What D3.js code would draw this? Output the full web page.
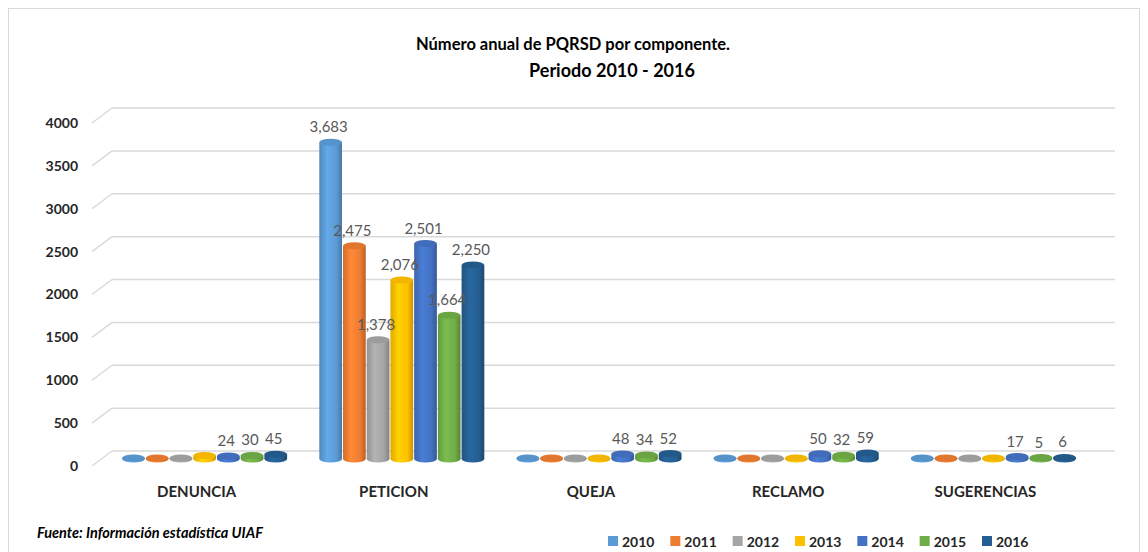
<!DOCTYPE html>
<html>
<head>
<meta charset="utf-8">
<script src="https://cdn.jsdelivr.net/npm/d3@7"></script>
<style>
  body { margin: 0; background: #fff; }
  svg text { font-family: Lato, "Open Sans", sans-serif; }
</style>
</head>
<body>
<svg id="chart" width="1148" height="552"></svg>
<script>
const categories = ["DENUNCIA", "PETICION", "QUEJA", "RECLAMO", "SUGERENCIAS"];
const years = ["2010", "2011", "2012", "2013", "2014", "2015", "2016"];
const colors = ["#5B9BD5", "#ED7D31", "#A5A5A5", "#FFC000", "#4472C4", "#70AD47", "#255E91"];
// values per year, one entry per category
const v2010 = [0, 3683, 0, 0, 0];
const v2011 = [0, 2475, 0, 0, 0];
const v2012 = [0, 1378, 0, 0, 0];
const v2013 = [30, 2076, 0, 0, 0];
const v2014 = [24, 2501, 48, 50, 17];
const v2015 = [30, 1664, 34, 32, 5];
const v2016 = [45, 2250, 52, 59, 6];
// which bars carry a data label
const labelled = [
  [false, true, false, false, false],
  [false, true, false, false, false],
  [false, true, false, false, false],
  [false, true, false, false, false],
  [true, true, true, true, true],
  [true, true, true, true, true],
  [true, true, true, true, true]
];
const yTicks = [0, 500, 1000, 1500, 2000, 2500, 3000, 3500, 4000];

const series = [v2010, v2011, v2012, v2013, v2014, v2015, v2016];
const rows = [];
categories.forEach((c, ci) => {
  years.forEach((y, yi) => {
    rows.push({ cat: c, year: y, yi: yi, value: series[yi][ci], label: labelled[yi][ci] });
  });
});

const svg = d3.select("#chart");

// frame
svg.append("rect").attr("x", 8.5).attr("y", 8.5).attr("width", 1131).attr("height", 560)
  .attr("fill", "none").attr("stroke", "#d9d9d9");

// title
svg.append("text").attr("x", 573).attr("y", 50).attr("text-anchor", "middle")
  .attr("font-size", 16.5).attr("font-weight", "bold").attr("fill", "#000")
  .text("Número anual de PQRSD por componente.");
svg.append("text").attr("x", 612).attr("y", 77).attr("text-anchor", "middle")
  .attr("font-size", 18).attr("font-weight", "bold").attr("fill", "#000")
  .text("Periodo 2010 - 2016");

// scales (back wall, bar mid plane, front labels)
const yBack = d3.scaleLinear().domain([0, 4000]).range([451, 108]);
const yBar = d3.scaleLinear().domain([0, 4000]).range([459, 116]);
const yFront = d3.scaleLinear().domain([0, 4000]).range([466, 123]);

const x0 = d3.scaleBand().domain(categories).range([98, 1084]);
const groupW = 166;
const x1 = d3.scaleBand().domain(years).range([0, groupW]);
const groupOffset = (x0.bandwidth() - groupW) / 2 + 8;

// gridlines with 3D side wall
const grid = svg.append("g");
yTicks.forEach((t) => {
  grid.append("line").attr("x1", 112).attr("x2", 1115)
    .attr("y1", yBack(t)).attr("y2", yBack(t))
    .attr("stroke", "#d9d9d9").attr("stroke-width", 1.5);
  grid.append("line").attr("x1", 92).attr("x2", 112)
    .attr("y1", yFront(t)).attr("y2", yBack(t))
    .attr("stroke", "#d9d9d9").attr("stroke-width", 1.3);
});

// y axis
const yAxis = d3.axisLeft(yFront).tickValues(yTicks).tickSize(0).tickPadding(0).tickFormat(d3.format("d"));
const ya = svg.append("g").attr("transform", "translate(78,0)").call(yAxis);
ya.select(".domain").remove();
ya.selectAll("text").attr("font-size", 14).attr("font-weight", "bold").attr("fill", "#262626")
  .attr("font-family", "Lato, sans-serif");

// category labels
svg.append("g").selectAll("text").data(categories).join("text")
  .attr("x", (d) => x0(d) + x0.bandwidth() / 2)
  .attr("y", 497).attr("text-anchor", "middle")
  .attr("font-size", 15).attr("font-weight", "bold").attr("fill", "#262626")
  .text((d) => d);

// gradients for cylinders
const defs = svg.append("defs");
colors.forEach((c, i) => {
  const g = defs.append("linearGradient").attr("id", "cyl" + i)
    .attr("x1", "0%").attr("x2", "100%").attr("y1", "0%").attr("y2", "0%");
  g.append("stop").attr("offset", "0%").attr("stop-color", d3.color(c).darker(0.35));
  g.append("stop").attr("offset", "35%").attr("stop-color", d3.color(c).brighter(0.25));
  g.append("stop").attr("offset", "75%").attr("stop-color", c);
  g.append("stop").attr("offset", "100%").attr("stop-color", d3.color(c).darker(0.7));
});

const bw = x1.bandwidth();
const ry = 3.5;
const bars = svg.append("g").selectAll("g").data(rows).join("g")
  .attr("transform", (d) => `translate(${x0(d.cat) + groupOffset + x1(d.year)},0)`);

// bottom ellipse
bars.append("ellipse")
  .attr("cx", bw / 2).attr("cy", yBar(0)).attr("rx", bw / 2 - 0.5).attr("ry", ry)
  .attr("fill", (d) => `url(#cyl${d.yi})`);
// body
bars.append("rect")
  .attr("x", 0.5).attr("width", bw - 1)
  .attr("y", (d) => yBar(d.value) - 1)
  .attr("height", (d) => yBar(0) - yBar(d.value) + 1)
  .attr("fill", (d) => `url(#cyl${d.yi})`);
// top ellipse
bars.append("ellipse")
  .attr("cx", bw / 2).attr("cy", (d) => yBar(d.value) - 1).attr("rx", bw / 2 - 0.5).attr("ry", ry)
  .attr("fill", (d) => d3.color(colors[d.yi]).darker(0.15));

// data labels
svg.append("g").selectAll("text").data(rows.filter((d) => d.label)).join("text")
  .attr("x", (d) => x0(d.cat) + groupOffset + x1(d.year) + bw / 2 - 2)
  .attr("y", (d) => yBar(d.value) - 11)
  .attr("text-anchor", "middle").attr("font-size", 15).attr("fill", "#595959")
  .text((d) => d3.format(",")(d.value));

// footnote
svg.append("text").attr("x", 37).attr("y", 538)
  .attr("font-size", 14.5).attr("font-weight", "bold").attr("font-style", "italic").attr("fill", "#000")
  .text("Fuente: Información estadística UIAF");

// legend
const legX = d3.scalePoint().domain(years).range([608, 982]);
const leg = svg.append("g").selectAll("g").data(years).join("g")
  .attr("transform", (d) => `translate(${legX(d)},536)`);
leg.append("rect").attr("x", 0).attr("y", 0).attr("width", 10).attr("height", 10)
  .attr("fill", (d, i) => colors[i]);
leg.append("text").attr("x", 14).attr("y", 10.5)
  .attr("font-size", 14).attr("font-weight", "bold").attr("fill", "#262626")
  .text((d) => d);
</script>
</body>
</html>
